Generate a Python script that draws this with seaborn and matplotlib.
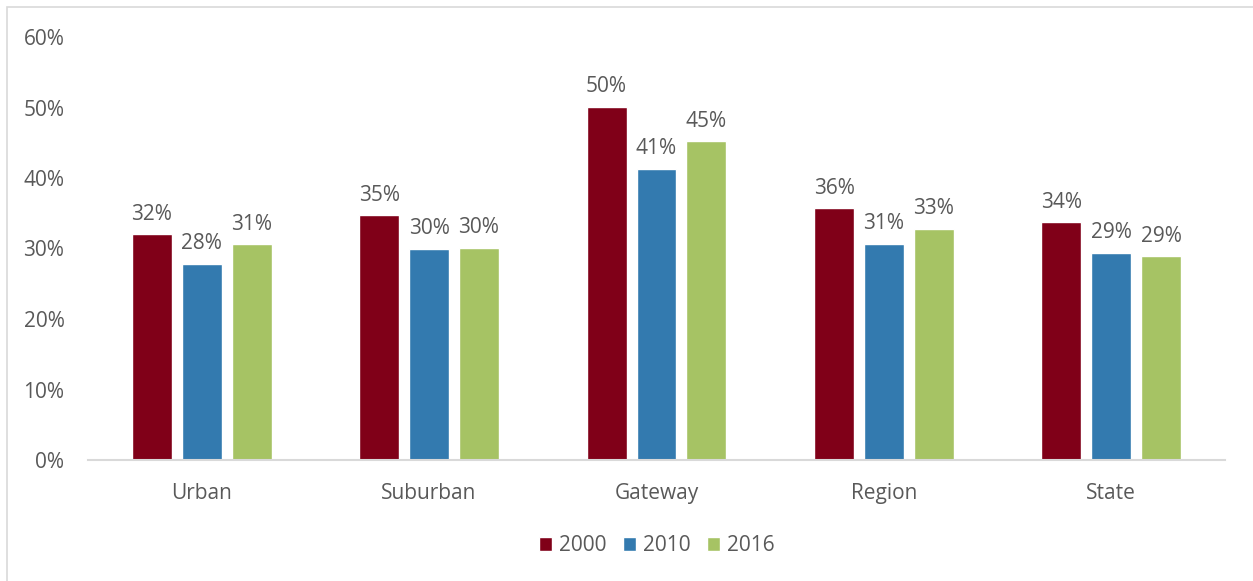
import numpy as np
import pandas as pd
import seaborn as sns
import matplotlib.pyplot as plt
from matplotlib.patches import Rectangle
from matplotlib.ticker import FuncFormatter

sns.set_theme(style="white")
plt.rcParams['font.family'] = ['Open Sans', 'DejaVu Sans']

# data (percent)
categories = ["Urban", "Suburban", "Gateway", "Region", "State"]
years = ["2000", "2010", "2016"]
share_2000 = [32.0, 34.7, 50.1, 35.7, 33.7]
share_2010 = [27.8, 30.0, 41.3, 30.7, 29.4]
share_2016 = [30.6, 30.1, 45.2, 32.8, 28.9]
labels_2000 = ["32%", "35%", "50%", "36%", "34%"]
labels_2010 = ["28%", "30%", "41%", "31%", "29%"]
labels_2016 = ["31%", "30%", "45%", "33%", "29%"]

colors = ["#800018", "#337AAF", "#A6C364"]
txt = "#595959"
fs = 15

df = pd.DataFrame({
    "category": categories * 3,
    "year": [y for y in years for _ in categories],
    "share": share_2000 + share_2010 + share_2016,
})

fig = plt.figure(figsize=(12.53, 5.81), dpi=100)
ax = fig.add_axes([88 / 1253, 1 - 460 / 581, 1137 / 1253, 423 / 581])

sns.barplot(data=df, x="category", y="share", hue="year", order=categories,
            hue_order=years, palette=colors, width=0.658, gap=0.2,
            saturation=1, ax=ax, errorbar=None)

for cont, labs in zip(ax.containers, [labels_2000, labels_2010, labels_2016]):
    ax.bar_label(cont, labels=labs, padding=7, fontsize=fs, color=txt)

ax.set_ylim(0, 60)
ax.set_xlim(-0.5, 4.5)
ax.set_yticks(np.arange(0, 61, 10))
ax.yaxis.set_major_formatter(FuncFormatter(lambda v, p: f"{v:.0f}%"))
ax.set_xlabel("")
ax.set_ylabel("")
ax.tick_params(axis="y", length=0, pad=17, labelsize=fs, labelcolor=txt)
ax.tick_params(axis="x", length=0, pad=16.5, labelsize=fs, labelcolor=txt)
for side in ["top", "right", "left"]:
    ax.spines[side].set_visible(False)
ax.spines["bottom"].set_color("#D9D9D9")
ax.spines["bottom"].set_linewidth(1.5)

leg = ax.legend(loc="center", bbox_to_anchor=(0.5, -0.203), ncol=3, frameon=False,
                fontsize=fs, handlelength=0.65, handleheight=0.65,
                handletextpad=0.3, columnspacing=0.8)
for t in leg.get_texts():
    t.set_color(txt)

# chart area border
fig.patches.append(Rectangle((7 / 1253, -0.1), 1.2, 1 - 7 / 581 + 0.1,
                             transform=fig.transFigure, fill=False,
                             edgecolor="#D9D9D9", linewidth=1.2))

fig.savefig("out.png", dpi=100)
